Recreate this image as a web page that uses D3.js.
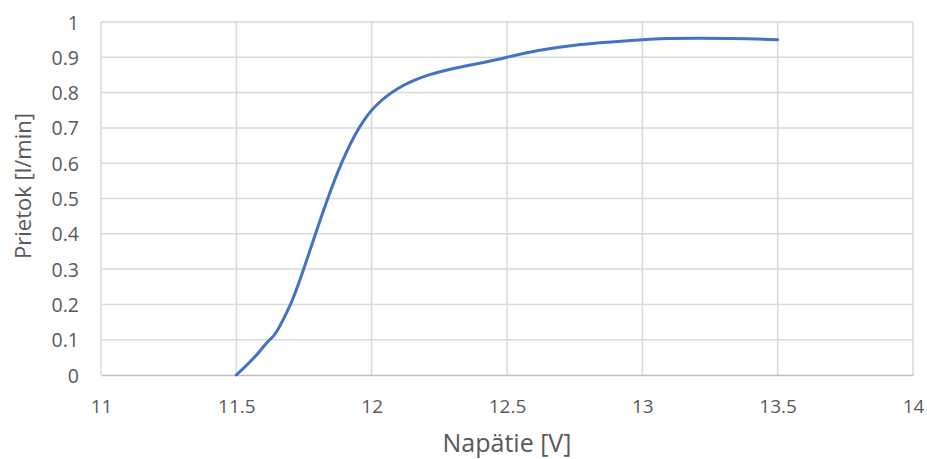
<!DOCTYPE html>
<html>
<head>
<meta charset="utf-8">
<script src="https://cdn.jsdelivr.net/npm/d3@7/dist/d3.min.js"></script>
<style>
  html, body { margin: 0; padding: 0; background: #ffffff; }
  svg { display: block; }
  text { font-family: "Open Sans", "Noto Sans", sans-serif; fill: #595959; }
</style>
</head>
<body>
<svg id="chart" width="927" height="459"></svg>
<script>
// Voltage [V] vs. flow rate [l/min]
const voltage = [11.5, 11.6, 11.7, 12, 12.5, 13, 13.5];
const flow    = [0, 0.08, 0.2, 0.75, 0.9, 0.95, 0.95];

const xTicks = [11, 11.5, 12, 12.5, 13, 13.5, 14];
const yTicks = [0, 0.1, 0.2, 0.3, 0.4, 0.5, 0.6, 0.7, 0.8, 0.9, 1];

const xTitle = "Napätie [V]";
const yTitle = "Prietok [l/min]";

const svg = d3.select("#chart");
const plot = { left: 101, right: 913, top: 22, bottom: 375 };

const x = d3.scaleLinear().domain([11, 14]).range([plot.left, plot.right]);
const y = d3.scaleLinear().domain([0, 1]).range([plot.bottom, plot.top]);

// vertical gridlines
svg.append("g")
  .selectAll("line")
  .data(xTicks)
  .join("line")
  .attr("x1", d => x(d)).attr("x2", d => x(d))
  .attr("y1", plot.top).attr("y2", plot.bottom)
  .attr("stroke", "#d9d9d9").attr("stroke-width", 1.5);

// horizontal gridlines
svg.append("g")
  .selectAll("line")
  .data(yTicks.filter(d => d > 0))
  .join("line")
  .attr("x1", plot.left).attr("x2", plot.right)
  .attr("y1", d => y(d)).attr("y2", d => y(d))
  .attr("stroke", "#d9d9d9").attr("stroke-width", 1.5);

// x axis
const xAxis = svg.append("g")
  .attr("transform", `translate(0,${plot.bottom})`)
  .call(d3.axisBottom(x).tickValues(xTicks).tickSize(0).tickPadding(0).tickFormat(d3.format("")));
xAxis.select(".domain").attr("stroke", "#bfbfbf").attr("stroke-width", 1.5);
xAxis.selectAll("text")
  .attr("y", 38).attr("dy", null)
  .style("font-size", "19px")
  .style("fill", "#595959");

// y axis
const yAxis = svg.append("g")
  .attr("transform", `translate(${plot.left},0)`)
  .call(d3.axisLeft(y).tickValues(yTicks).tickSize(0).tickPadding(0).tickFormat(d3.format("")));
yAxis.select(".domain").remove();
yAxis.selectAll("text")
  .attr("x", -22).attr("dy", "0.36em")
  .style("font-size", "19.5px")
  .style("fill", "#595959");

// axis titles
svg.append("text")
  .attr("x", (plot.left + plot.right) / 2)
  .attr("y", 452)
  .attr("text-anchor", "middle")
  .style("font-size", "25px")
  .text(xTitle);

svg.append("text")
  .attr("transform", "translate(31,186) rotate(-90)")
  .attr("text-anchor", "middle")
  .style("font-size", "22px")
  .text(yTitle);

// smoothed series line
const line = d3.line()
  .x(d => x(d[0]))
  .y(d => y(d[1]))
  .curve(d3.curveCatmullRom.alpha(0));

svg.append("path")
  .datum(d3.zip(voltage, flow))
  .attr("d", line)
  .attr("fill", "none")
  .attr("stroke", "#4472c4")
  .attr("stroke-width", 3)
  .attr("stroke-linecap", "round")
  .attr("stroke-linejoin", "round");
</script>
</body>
</html>
